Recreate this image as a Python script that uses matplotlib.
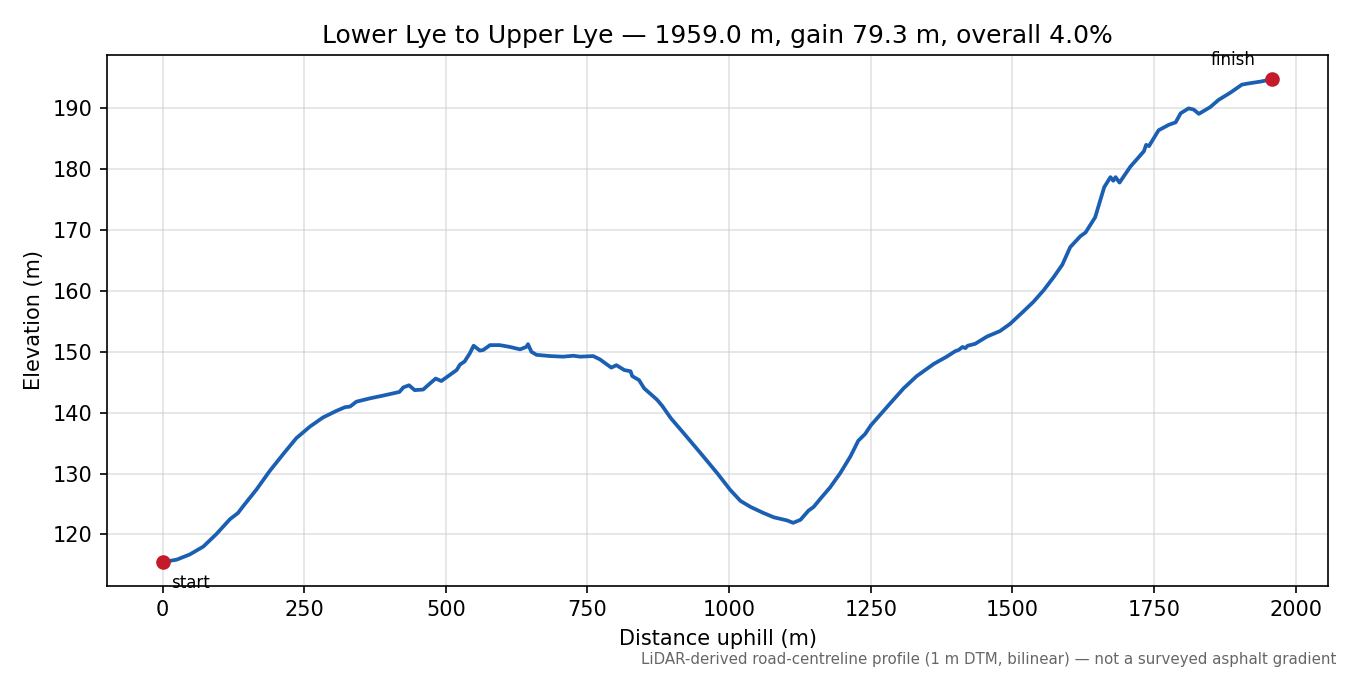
import matplotlib
matplotlib.use("Agg")
import matplotlib.pyplot as plt

distance_m = [0, 10, 25, 48, 72, 95, 119, 133, 142, 166, 189, 213, 236, 260, 283, 307, 322, 331,
              342, 366, 389, 413, 418, 425, 435, 445, 460, 472, 482, 492, 507, 519, 525, 533, 542,
              549, 560, 566, 578, 595, 613, 631, 642, 645, 651, 660, 684, 707, 725, 737, 760, 772,
              792, 801, 815, 826, 829, 841, 850, 873, 882, 897, 920, 950, 979, 1002, 1020, 1038,
              1061, 1079, 1102, 1113, 1126, 1140, 1149, 1161, 1178, 1196, 1214, 1228, 1240, 1250,
              1266, 1284, 1308, 1331, 1361, 1384, 1399, 1405, 1412, 1417, 1421, 1434, 1455, 1478,
              1496, 1519, 1537, 1555, 1573, 1588, 1602, 1620, 1629, 1646, 1655, 1662, 1673, 1678,
              1682, 1689, 1708, 1732, 1736, 1741, 1758, 1776, 1788, 1797, 1811, 1820, 1829, 1849,
              1864, 1885, 1905, 1917, 1938, 1959]
elevation_m = [115.5, 115.6, 115.85, 116.7, 118.0, 120.05, 122.5, 123.5, 124.6, 127.4, 130.4, 133.2,
               135.8, 137.7, 139.2, 140.3, 140.9, 141.0, 141.8, 142.35, 142.8, 143.3, 143.4, 144.15,
               144.5, 143.7, 143.8, 144.8, 145.6, 145.2, 146.2, 147.0, 147.9, 148.4, 149.7, 151.0,
               150.2, 150.3, 151.1, 151.1, 150.8, 150.4, 150.8, 151.25, 150.0, 149.5, 149.3, 149.2,
               149.35, 149.2, 149.3, 148.75, 147.4, 147.8, 147.0, 146.8, 146.0, 145.35, 144.0, 142.1,
               141.1, 139.1, 136.6, 133.3, 130.05, 127.3, 125.5, 124.5, 123.5, 122.8, 122.3, 121.9,
               122.4, 123.9, 124.5, 125.85, 127.7, 130.05, 132.8, 135.4, 136.5, 137.9, 139.6, 141.5,
               144.0, 146.0, 148.0, 149.2, 150.1, 150.3, 150.8, 150.6, 151.0, 151.3, 152.5, 153.4,
               154.6, 156.6, 158.2, 160.1, 162.3, 164.3, 167.2, 169.0, 169.6, 172.1, 174.9, 177.05,
               178.7, 178.1, 178.7, 177.8, 180.4, 182.95, 184.0, 183.8, 186.4, 187.3, 187.7, 189.2,
               190.0, 189.8, 189.1, 190.2, 191.4, 192.6, 193.9, 194.1, 194.4, 194.8]

title = "Lower Lye to Upper Lye \u2014 1959.0 m, gain 79.3 m, overall 4.0%"
footnote = "LiDAR-derived road-centreline profile (1 m DTM, bilinear) \u2014 not a surveyed asphalt gradient"

fig = plt.figure(figsize=(9, 4.5), dpi=150)
ax = fig.add_axes([0.0793, 0.132, 0.9044, 0.7865])

ax.plot(distance_m, elevation_m, color="#1b5fb3", linewidth=1.8, zorder=2)
ax.plot([distance_m[0], distance_m[-1]], [elevation_m[0], elevation_m[-1]], "o",
        color="#c41a2a", markersize=6, zorder=3)

ax.annotate("start", (distance_m[0], elevation_m[0]), xytext=(4, -6),
            textcoords="offset points", ha="left", va="top", fontsize=8)
ax.annotate("finish", (distance_m[-1], elevation_m[-1]), xytext=(-19, 5),
            textcoords="offset points", ha="center", va="bottom", fontsize=8)

ax.set_title(title, fontsize=12)
ax.set_xlabel("Distance uphill (m)")
ax.set_ylabel("Elevation (m)")
ax.grid(True, color="#cccccc", alpha=0.55, linewidth=0.8)
ax.set_axisbelow(True)

fig.text(0.99, 0.012, footnote, ha="right", va="bottom", fontsize=7.2, color="#666666")

fig.savefig("out.png", dpi=150)
